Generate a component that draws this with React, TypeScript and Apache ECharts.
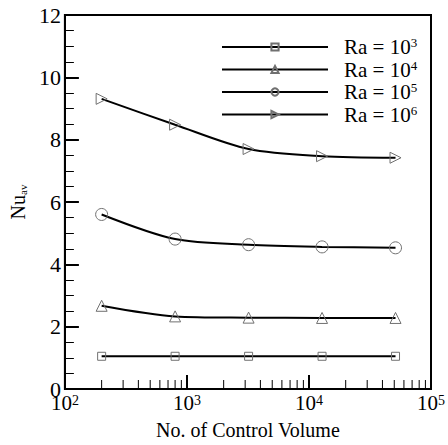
import React, { useEffect, useRef } from "react";
import * as echarts from "echarts";

const controlVolumes = [200, 800, 3200, 12800, 51200];
const ra3 = [1.05, 1.05, 1.05, 1.05, 1.05];
const ra4 = [2.67, 2.33, 2.29, 2.28, 2.28];
const ra5 = [5.6, 4.81, 4.63, 4.56, 4.53];
const ra6 = [9.31, 8.48, 7.7, 7.47, 7.42];
const seriesNames = ["Ra3", "Ra4", "Ra5", "Ra6"];
const minorXTicks = [
  200, 300, 400, 500, 600, 700, 800, 900,
  2000, 3000, 4000, 5000, 6000, 7000, 8000, 9000,
  20000, 30000, 40000, 50000, 60000, 70000, 80000, 90000,
];

const FONT = "Liberation Serif";

export default function App() {
  const ref = useRef<HTMLDivElement>(null);
  useEffect(() => {
    if (!ref.current) return;
    document.body.style.margin = "0";
    const chart = echarts.init(ref.current, null, { renderer: "svg" });
    const pair = (ys: number[]) => controlVolumes.map((x, i) => [x, ys[i]]);
    const markerStyle = {
      color: "rgba(0,0,0,0)",
      borderColor: "#707070",
      borderWidth: 1,
    };
    const lineSeries = (name: string, ys: number[], symbol: string, size: number, rotate = 0) => ({
      name,
      type: "line",
      data: pair(ys),
      symbol,
      symbolSize: size,
      symbolRotate: rotate,
      smooth: 0.3,
      lineStyle: { color: "#000", width: 2 },
      itemStyle: markerStyle,
      z: 3,
    });
    chart.setOption({
      animation: false,
      textStyle: { fontFamily: FONT },
      grid: {
        left: 59,
        right: 11,
        top: 15,
        bottom: 48,
        show: true,
        borderColor: "#000",
        borderWidth: 2,
      },
      legend: {
        data: seriesNames,
        orient: "vertical",
        left: 221,
        top: 36,
        padding: 0,
        itemWidth: 106,
        itemHeight: 9,
        itemGap: 1,
        selectedMode: false,
        formatter: (name: string) => `{g|}{b|Ra = 10}{sup|${name.slice(2)}}`,
        textStyle: {
          fontFamily: FONT,
          fontSize: 21,
          color: "#000",
          rich: {
            g: { width: 11, fontFamily: FONT },
            b: { fontFamily: FONT, fontSize: 21, lineHeight: 22, color: "#000" },
            sup: { fontFamily: FONT, fontSize: 13, lineHeight: 13, verticalAlign: "top", color: "#000" },
          },
        },
      },
      xAxis: {
        type: "log",
        logBase: 10,
        min: 100,
        max: 100000,
        name: "No. of Control Volume",
        nameLocation: "middle",
        nameGap: 31,
        nameTextStyle: { fontFamily: FONT, fontSize: 20, color: "#000" },
        axisLine: { lineStyle: { color: "#000", width: 2 } },
        axisTick: { inside: true, length: 14, lineStyle: { color: "#000", width: 2 } },
        splitLine: { show: false },
        axisLabel: {
          margin: 4,
          showMaxLabel: true,
          fontFamily: FONT,
          formatter: (v: number) => `{b|10}{sup|${Math.round(Math.log10(v))}}`,
          rich: {
            b: { fontFamily: FONT, fontSize: 21, lineHeight: 20, color: "#000" },
            sup: { fontFamily: FONT, fontSize: 14, lineHeight: 12, verticalAlign: "top", color: "#000" },
          },
        },
      },
      yAxis: {
        type: "value",
        min: 0,
        max: 12,
        interval: 2,
        name: "{b|Nu}{sub|av}",
        nameLocation: "middle",
        nameGap: 35,
        nameRotate: 90,
        nameTextStyle: {
          fontFamily: FONT,
          rich: {
            b: { fontFamily: FONT, fontSize: 20, lineHeight: 20, color: "#000" },
            sub: { fontFamily: FONT, fontSize: 11, lineHeight: 10, verticalAlign: "bottom", color: "#000" },
          },
        },
        axisLine: { show: true, lineStyle: { color: "#000", width: 2 } },
        axisTick: { inside: true, length: 14, lineStyle: { color: "#000", width: 2 } },
        minorTick: { show: true, splitNumber: 4, length: 9, lineStyle: { color: "#000", width: 1 } },
        splitLine: { show: false },
        minorSplitLine: { show: false },
        axisLabel: { margin: 4, fontFamily: FONT, fontSize: 22, color: "#000" },
      },
      series: [
        lineSeries("Ra3", ra3, "rect", 8),
        lineSeries("Ra4", ra4, "triangle", 11),
        lineSeries("Ra5", ra5, "circle", 12),
        lineSeries("Ra6", ra6, "triangle", 11, -90),
        {
          type: "custom",
          silent: true,
          coordinateSystem: "cartesian2d",
          data: minorXTicks.map((v) => [v, 0]),
          encode: { x: 0, y: 1 },
          clip: false,
          z: 4,
          renderItem: (_p: any, api: any) => {
            const pt = api.coord([api.value(0), 0]);
            return {
              type: "line",
              shape: { x1: pt[0], y1: pt[1], x2: pt[0], y2: pt[1] - 9 },
              style: { stroke: "#000", lineWidth: 1 },
            };
          },
        },
      ],
    });
    return () => chart.dispose();
  }, []);
  return <div ref={ref} style={{ width: 448, height: 445 }} />;
}
